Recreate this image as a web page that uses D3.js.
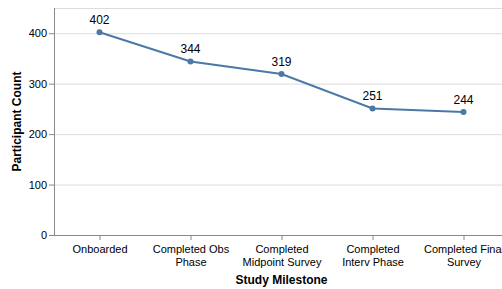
<!DOCTYPE html>
<html><head><meta charset="utf-8">
<script src="https://cdn.jsdelivr.net/npm/d3@7"></script>
<style>body{margin:0;background:#fff}svg{display:block}text{font-family:"Liberation Sans",Arial,Helvetica,sans-serif}</style>
</head><body>
<script>
const categories = ["Onboarded", "Completed Obs Phase", "Completed Midpoint Survey", "Completed Interv Phase", "Completed Final Survey"];
const categoryLines = [["Onboarded"], ["Completed Obs", "Phase"], ["Completed", "Midpoint Survey"], ["Completed", "Interv Phase"], ["Completed Final", "Survey"]];
const counts = [402, 344, 319, 251, 244];
const yTicks = [0, 100, 200, 300, 400];
const yMax = 450;
const xTitle = "Study Milestone";
const yTitle = "Participant Count";

const W = 502, H = 289;
const m = {left: 54, top: 8, right: 0, bottom: 54};
const plotW = 455, plotH = 227;
const svg = d3.select("body").append("svg").attr("width", W).attr("height", H);
const g = svg.append("g").attr("transform", `translate(${m.left},${m.top})`);

const x = d3.scalePoint().domain(categories).range([0, plotW]).padding(0.5);
const y = d3.scaleLinear().domain([0, yMax]).range([plotH, 0]);

// grid
g.append("g").selectAll("line").data(yTicks.concat([yMax])).join("line")
  .attr("x1", 0).attr("x2", plotW).attr("y1", d => y(d) + 0.5).attr("y2", d => y(d) + 0.5)
  .attr("stroke", "#ddd").attr("stroke-width", 1);

// y axis
const ya = g.append("g").call(d3.axisLeft(y).tickValues(yTicks).tickSize(5).tickPadding(2));
ya.select(".domain").attr("stroke", "#888").attr("d", `M0.5,${plotH}V0`);
ya.selectAll(".tick line").attr("stroke", "#888");
ya.selectAll("text").attr("font-size", 11).attr("fill", "#000").attr("font-family", null);

// x axis
const xa = g.append("g").attr("transform", `translate(0,${plotH})`).call(d3.axisBottom(x).tickSize(5).tickPadding(5));
xa.select(".domain").attr("stroke", "#888").attr("d", `M0,0.5H${plotW}`);
xa.selectAll(".tick line").attr("stroke", "#888");
xa.selectAll(".tick text").text(null).attr("font-size", 11).attr("fill", "#000").attr("font-family", null)
  .each(function(d, i) {
    const t = d3.select(this);
    categoryLines[i].forEach((ln, j) => t.append("tspan").attr("x", 0).attr("dy", j === 0 ? "0.71em" : "1.22em").text(ln));
  });

// line
const line = d3.line().x((d, i) => x(categories[i])).y(d => y(d));
g.append("path").datum(counts).attr("d", line).attr("fill", "none").attr("stroke", "#4c78a8").attr("stroke-width", 2);
g.selectAll("circle.pt").data(counts).join("circle").attr("class", "pt")
  .attr("cx", (d, i) => x(categories[i])).attr("cy", d => y(d)).attr("r", 3).attr("fill", "#4c78a8");
g.selectAll("text.lbl").data(counts).join("text").attr("class", "lbl")
  .attr("x", (d, i) => x(categories[i])).attr("y", d => y(d) - 8)
  .attr("text-anchor", "middle").attr("font-size", 12).attr("fill", "#000").text(d => d);

// titles
svg.append("text").attr("x", m.left + plotW / 2).attr("y", 284).attr("text-anchor", "middle")
  .attr("font-size", 12).attr("font-weight", "bold").text(xTitle);
svg.append("text").attr("transform", `translate(21,${m.top + plotH / 2}) rotate(-90)`).attr("text-anchor", "middle")
  .attr("font-size", 12).attr("font-weight", "bold").text(yTitle);
</script>
</body></html>
